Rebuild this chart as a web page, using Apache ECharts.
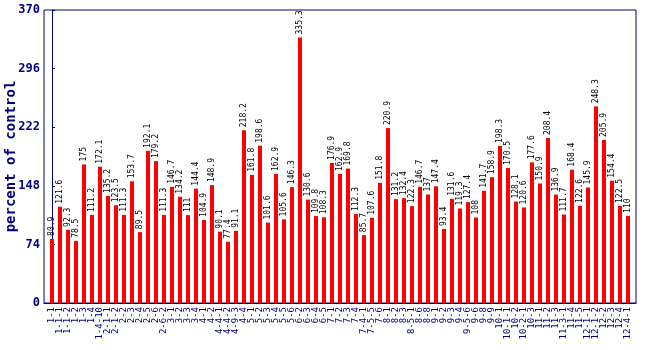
<!DOCTYPE html>
<html><head><meta charset="utf-8">
<script src="https://cdn.jsdelivr.net/npm/echarts@6/dist/echarts.min.js"></script>
<style>html,body{margin:0;padding:0;background:#fff}#c{width:650px;height:350px}</style>
</head><body><div id="c"></div>
<script>
const categories = ["1-1","1-1-1","1-1-2","1-2","1-3","1-4","1-4-10","2-1-1","2-1-2","2-2","2-3","2-4","2-5","2-6","2-6-2","3-1","3-2","3-3","3-4","4-1","4-2","4-4-1","4-4-2","4-9-3","4-4","5-1","5-2","5-3","5-4","5-5","5-6","6-2","6-3","6-4","6-5","7-1","7-2","7-3","7-4","7-4-1","7-5-5","7-6","8-1","8-2","8-3","8-5-1","8-6","8-8","9-1","9-2","9-3","9-4","9-5-6","9-6","9-8","9-9","10-1","10-1-1","10-2","10-2-1","10-3","11-1","11-2","11-3","11-3-1","11-4","11-5","12-1-1","12-1-2","12-2","12-3","12-4","12-4-1"];
const values = [80.9,121.6,92.3,78.5,175,111.2,172.1,135.2,123.5,111.3,153.7,89.5,192.1,179.2,111.3,146.7,134.2,111,144.4,104.9,148.9,90.1,77.4,91.1,218.2,161.8,198.6,101.6,162.9,105.6,146.3,335.3,130.6,109.8,108.3,176.9,162.9,169.8,112.3,85.7,107.6,151.8,220.9,131.2,132.4,122.3,146.7,137,147.4,93.4,131.6,119.3,127.4,108,141.7,158.9,198.3,170.5,128.1,120.6,177.6,150.9,208.4,136.9,111.7,168.4,122.6,145.9,248.3,205.9,154.4,122.5,110];
const yTicks = [0,74,148,222,296,370];

const navy = '#000080';
const mono = '"DejaVu Sans Mono", "Liberation Mono", monospace';
const chart = echarts.init(document.getElementById('c'));
chart.setOption({
  animation: false,
  grid: {left: 44, right: 14, top: 10, bottom: 47, containLabel: false, outerBoundsMode: 'none',
    show: true, borderColor: navy, borderWidth: 1},
  xAxis: {
    type: 'value', min: -1, max: categories.length, interval: 1,
    splitLine: {show: false},
    axisLine: {show: true, onZero: false, lineStyle: {color: navy, width: 1}},
    axisTick: {show: false},
    axisLabel: {rotate: 90, color: navy, fontFamily: mono, fontSize: 9, margin: 4, hideOverlap: false,
      formatter: v => categories[v] || ''}
  },
  yAxis: {
    type: 'value', min: yTicks[0], max: yTicks[yTicks.length-1], interval: 74,
    name: 'percent of control', nameLocation: 'middle', nameGap: 26, nameMoveOverlap: false,
    nameTextStyle: {color: navy, fontFamily: mono, fontSize: 14, fontWeight: 'bold'},
    splitLine: {show: false},
    axisLine: {show: true, lineStyle: {color: navy}},
    axisTick: {show: true, inside: true, length: 3, lineStyle: {color: navy}},
    axisLabel: {color: navy, fontFamily: mono, fontSize: 12, fontWeight: 'bold', margin: 4}
  },
  series: [{
    type: 'bar', data: values.map((v, i) => [i, v]), barWidth: 4,
    itemStyle: {color: '#ff0000'},
    label: {show: true, position: 'top', rotate: 90, align: 'left', verticalAlign: 'middle', distance: 3,
      color: '#000', fontFamily: mono, fontSize: 8,
      formatter: p => String(p.value[1])}
  }]
});
</script></body></html>
